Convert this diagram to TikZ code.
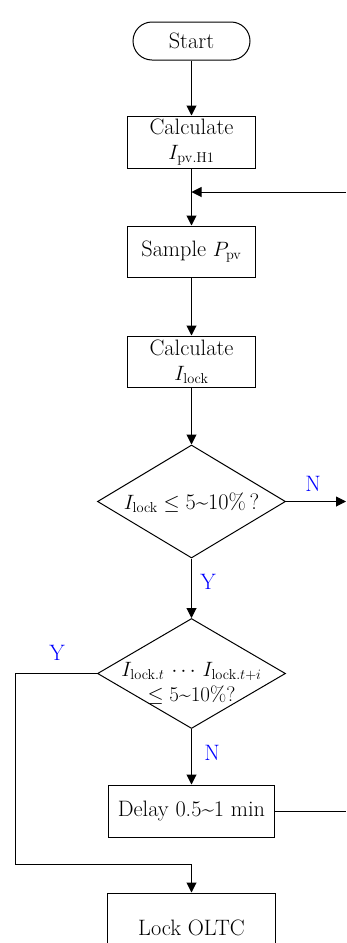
\documentclass[tikz,border=0pt]{standalone}
\usetikzlibrary{arrows.meta,shapes.geometric}
\begin{document}
\begin{tikzpicture}[x=1pt,y=1pt,
  every node/.style={font=\fontsize{22.3}{25}\selectfont},
  line/.style={line width=1pt,draw=black},
  arr/.style={line, -{Triangle[length=10pt,width=10pt]}},
  procbox/.style={rectangle, draw, line width=1pt, inner sep=0pt, align=center, minimum height=51pt},
  decbox/.style={diamond, draw, line width=1pt, inner sep=0pt, minimum width=188pt},
  dectext/.style={inner sep=0pt, align=center},
  lbl/.style={text=blue, inner sep=0pt}
]
\useasboundingbox (0,0) rectangle (346,-943);
\clip (0,0) rectangle (346,-943);

\node[procbox, rounded corners=19pt, minimum width=117pt, minimum height=38pt] (start) at (191.5,-41) {Start};
\node[procbox, minimum width=128pt, minimum height=52pt] (calc1) at (191.5,-142) {Calculate\\ $I_{\mathrm{pv.H1}}$};
\node[procbox, minimum width=128pt] (sample) at (191.5,-251.5) {Sample $P_{\mathrm{pv}}$};
\node[procbox, minimum width=128pt] (calc2) at (191.5,-361.5) {Calculate\\ $I_{\mathrm{lock}}$};
\node[decbox, minimum height=113pt] (dec1) at (191.5,-501.5) {};
\node[dectext] (dec1t) at (191.5,-503) {$I_{\mathrm{lock}}\leq{}$5\textasciitilde10\%\,?};
\node[decbox, minimum height=110pt] (dec2) at (191.5,-673.5) {};
\node[dectext, font=\fontsize{21}{25}\selectfont] (dec2t) at (191.5,-683) {$I_{\mathrm{lock.}t}\,\cdots\,I_{\mathrm{lock.}t+i}$\\ $\leq{}$5\textasciitilde10\%?};
\node[procbox, minimum width=166pt, minimum height=52pt] (delay) at (191.5,-811) {Delay 0.5\textasciitilde1 min};
\node[procbox, minimum width=168pt, minimum height=70pt, text depth=0pt] (lock) at (191.5,-928) {Lock OLTC};

\coordinate (j1) at (191.5,-192);
\coordinate (fbR) at (346,-192);
\coordinate (nR) at (346,-501.5);
\coordinate (dR) at (346,-811);
\coordinate (yL1) at (15,-673.5);
\coordinate (yL2) at (15,-864);
\coordinate (yL3) at (191.5,-864);

\draw[arr] (start) -- (calc1);
\draw[arr] (calc1) -- (sample);
\draw[arr] (fbR) -- (j1);
\draw[arr] (sample) -- (calc2);
\draw[arr] (calc2) -- (dec1);
\draw[arr] (dec1.east) -- (nR);
\draw[arr] (dec1.south) -- (dec2.north);
\draw[arr] (dec2.south) -- (delay.north);
\draw[line] (delay.east) -- (dR);
\draw[line] (dec2.west) -- (yL1) -- (yL2) -- (yL3);
\draw[arr] (yL3) -- (lock.north);

\node[lbl] (n1) at (313,-484) {N};
\node[lbl] (y1) at (208,-582) {Y};
\node[lbl] (n2) at (212,-753) {N};
\node[lbl] (y2) at (57,-653) {Y};
\end{tikzpicture}
\end{document}
